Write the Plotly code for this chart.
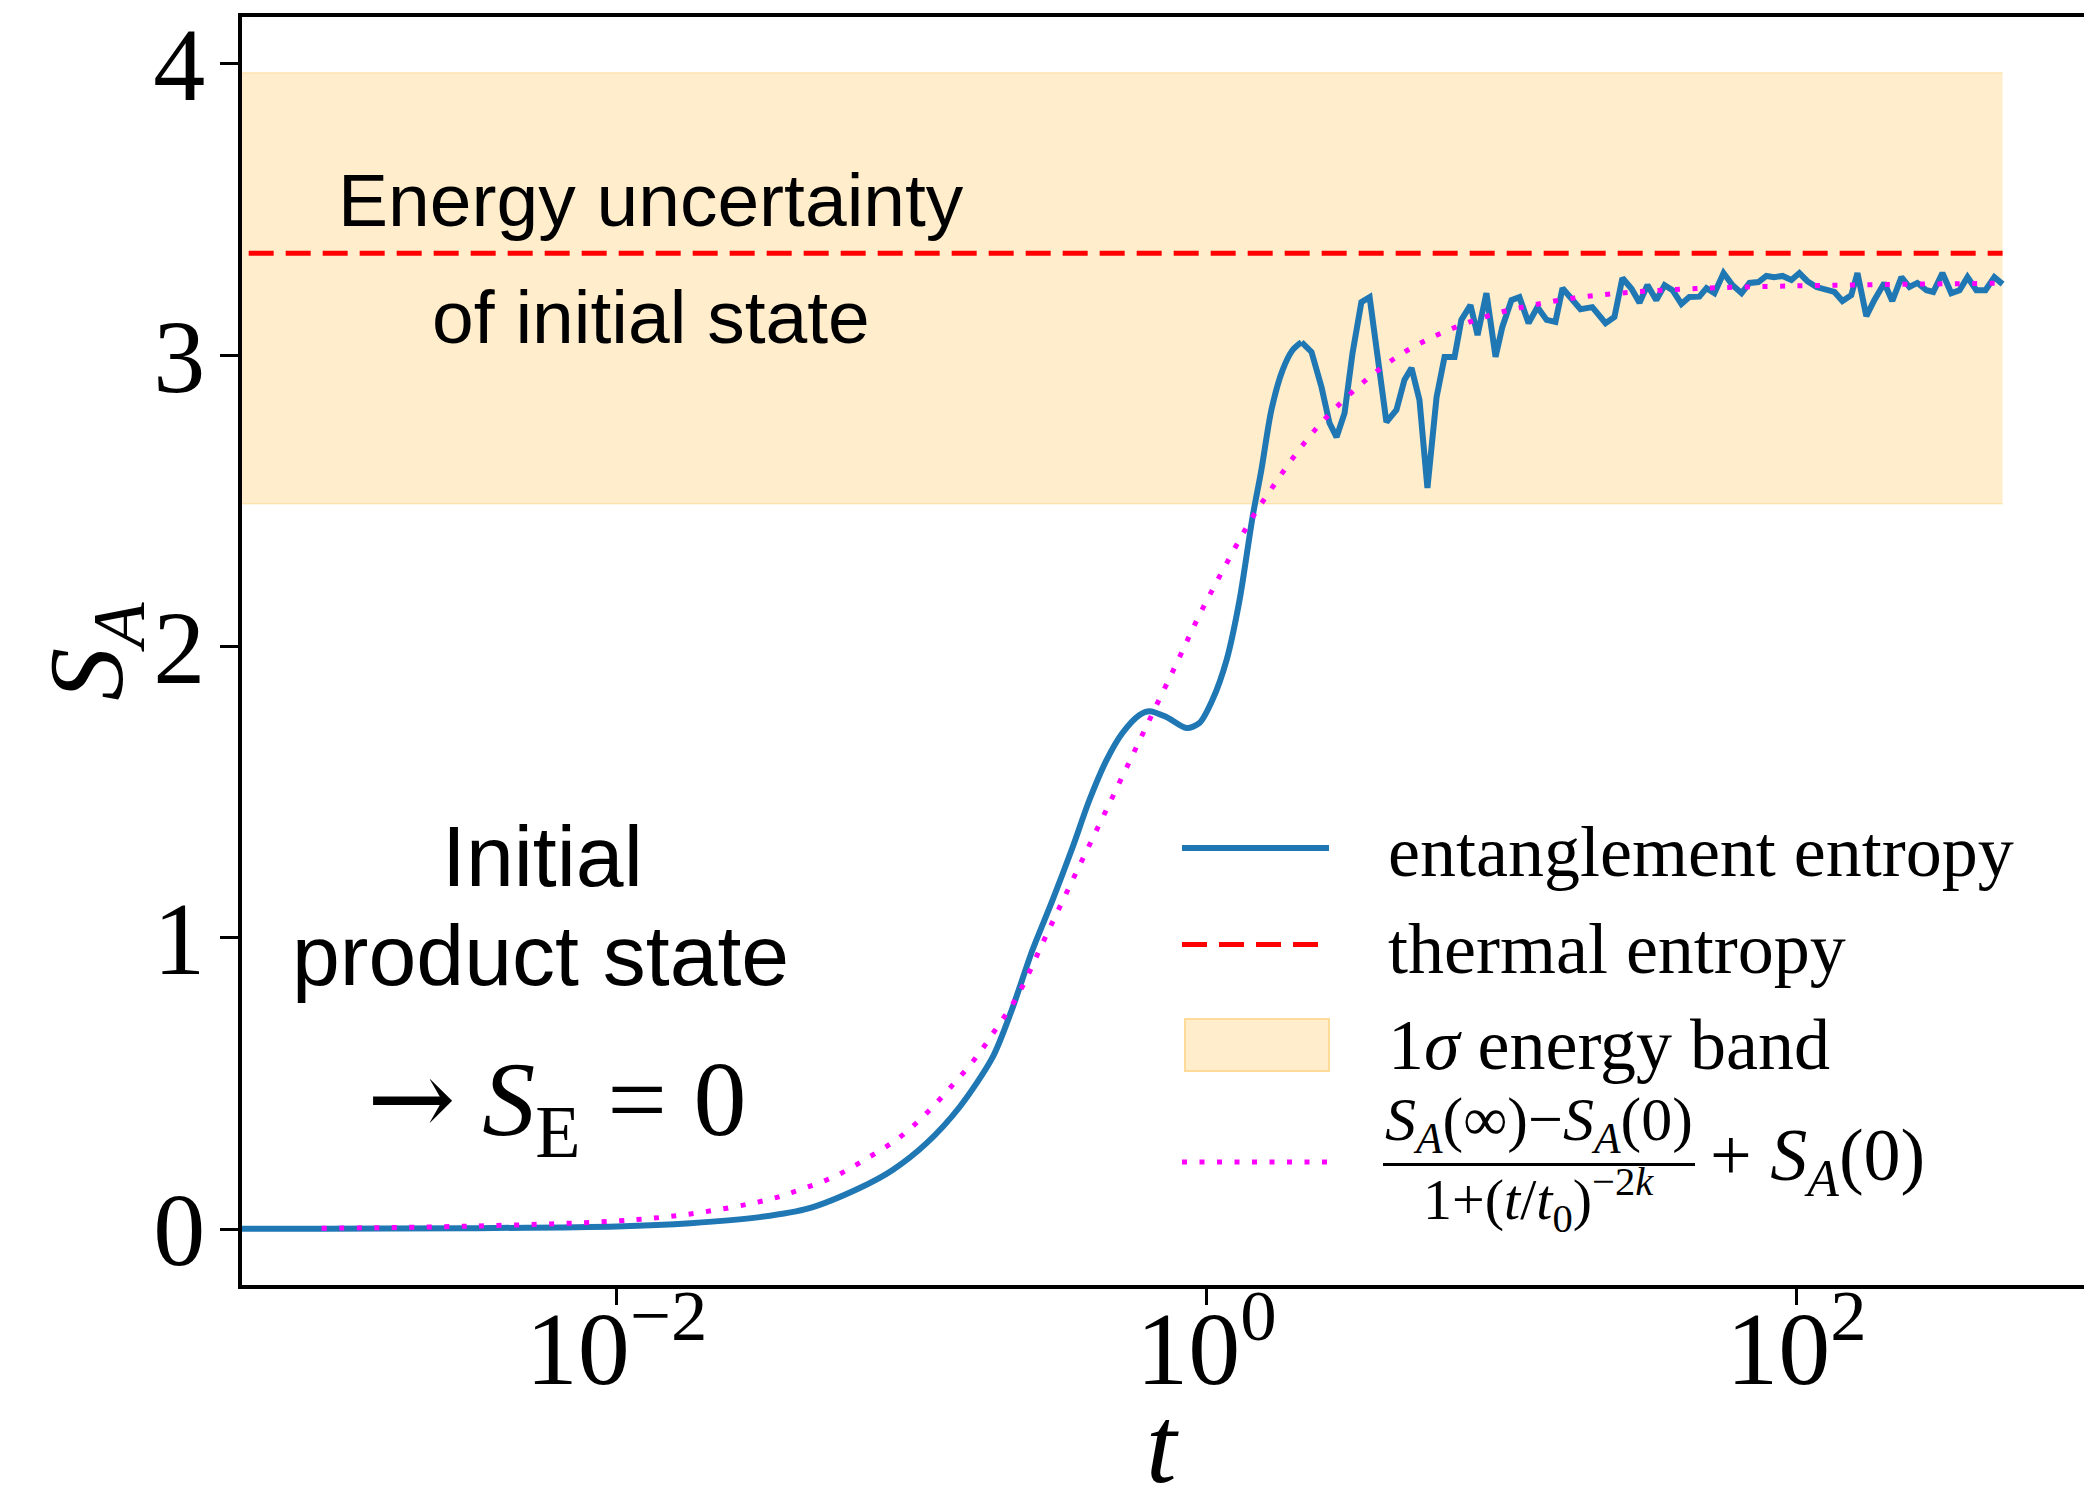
import plotly.graph_objects as go

# ---------------- data ----------------
# entanglement entropy (blue): log10(t) and S_A
log10_t_ent = [-4.0, -3.0, -2.5, -2.0, -1.75, -1.515, -1.346, -1.176, -1.064, -0.949,
               -0.837, -0.725, -0.661, -0.590, -0.522, -0.454, -0.397, -0.339, -0.285, -0.227,
               -0.193, -0.136, -0.068, -0.024, 0.020, 0.068, 0.112, 0.156, 0.186, 0.220,
               0.258, 0.292, 0.322, 0.356, 0.390, 0.417, 0.441, 0.468, 0.495, 0.525,
               0.553, 0.580, 0.610, 0.644, 0.671, 0.695, 0.722, 0.749, 0.780, 0.807,
               0.841, 0.864, 0.895, 0.919, 0.949, 0.980, 1.003, 1.034, 1.061, 1.092,
               1.122, 1.153, 1.183, 1.207, 1.237, 1.268, 1.308, 1.353, 1.383, 1.410,
               1.441, 1.468, 1.495, 1.525, 1.553, 1.580, 1.610, 1.637, 1.671, 1.695,
               1.722, 1.753, 1.783, 1.814, 1.841, 1.871, 1.898, 1.925, 1.953, 1.983,
               2.010, 2.037, 2.068, 2.102, 2.129, 2.156, 2.186, 2.207, 2.237, 2.264,
               2.298, 2.325, 2.356, 2.383, 2.410, 2.441, 2.464, 2.495, 2.525, 2.553,
               2.580, 2.610, 2.641, 2.671, 2.699]
S_ent = [0.0, 0.001, 0.003, 0.009, 0.020, 0.041, 0.072, 0.141, 0.203, 0.295,
         0.419, 0.590, 0.750, 0.958, 1.129, 1.311, 1.473, 1.610, 1.703, 1.765,
         1.778, 1.758, 1.720, 1.737, 1.816, 1.953, 2.159, 2.444, 2.606, 2.812,
         2.949, 3.018, 3.045, 3.011, 2.890, 2.767, 2.719, 2.801, 3.007, 3.182,
         3.199, 3.007, 2.770, 2.812, 2.915, 2.956, 2.846, 2.544, 2.856, 2.994,
         2.994, 3.121, 3.172, 3.069, 3.213, 2.994, 3.097, 3.189, 3.199, 3.110,
         3.165, 3.121, 3.114, 3.230, 3.196, 3.158, 3.165, 3.110, 3.131, 3.265,
         3.228, 3.180, 3.241, 3.189, 3.240, 3.223, 3.176, 3.200, 3.201, 3.230,
         3.213, 3.282, 3.241, 3.213, 3.248, 3.251, 3.272, 3.268, 3.272, 3.258,
         3.282, 3.254, 3.234, 3.223, 3.217, 3.186, 3.206, 3.282, 3.134, 3.189,
         3.248, 3.186, 3.268, 3.234, 3.248, 3.223, 3.217, 3.282, 3.213, 3.223,
         3.268, 3.223, 3.223, 3.268, 3.244]
SMOOTH_END = 33  # points before this index form the smooth early rise

# fitted curve (magenta, dotted)
log10_t_fit = [-3.0, -2.5, -2.0, -1.75, -1.49, -1.373, -1.258, -1.149, -1.044, -0.949,
               -0.864, -0.783, -0.712, -0.644, -0.532, -0.420, -0.305, -0.203, -0.102, -0.024,
               0.060, 0.156, 0.224, 0.298, 0.376, 0.461, 0.553, 0.654, 0.766, 0.881,
               1.000, 1.122, 1.244, 1.369, 1.495, 1.620, 1.750, 2.000, 2.250, 2.500, 2.699]
S_fit = [0.003, 0.010, 0.028, 0.052, 0.100, 0.137, 0.182, 0.244, 0.312, 0.398,
         0.491, 0.587, 0.690, 0.795, 1.033, 1.270, 1.512, 1.728, 1.941, 2.108,
         2.270, 2.444, 2.547, 2.654, 2.753, 2.842, 2.925, 3.000, 3.062, 3.110,
         3.148, 3.175, 3.196, 3.210, 3.220, 3.227, 3.232, 3.238, 3.242, 3.245, 3.247]

# thermal entropy and 1-sigma energy band
t_span = [1e-4, 500]
S_thermal = [3.35, 3.35]
band_low = [2.49, 2.49]
band_high = [3.97, 3.97]

# axis ticks and titles
x_tick_vals = [1e-2, 1, 1e2]
x_tick_text = ["10<sup>−2</sup>", "10<sup>0</sup>", "10<sup>2</sup>"]
y_tick_vals = [0, 1, 2, 3, 4]
y_tick_text = ["0", "1", "2", "3", "4"]
x_title = "<i>t</i>"
y_title = "<i>S</i><sub><i>A</i></sub>"

t_ent = [10 ** v for v in log10_t_ent]
t_fit = [10 ** v for v in log10_t_fit]

SERIF = "Liberation Serif"
SANS = "Liberation Sans"
BAND_FILL = "rgba(255,165,0,0.2)"
BLUE = "#1f77b4"
NB = "\u00a0\u00a0\u00a0"

fig = go.Figure()

# band
fig.add_trace(go.Scatter(x=t_span, y=band_low, mode="lines",
                         line=dict(color=BAND_FILL, width=1.5), showlegend=False,
                         hoverinfo="skip"))
fig.add_trace(go.Scatter(x=t_span, y=band_high, mode="lines", fill="tonexty",
                         fillcolor=BAND_FILL, line=dict(color=BAND_FILL, width=1.5),
                         showlegend=False, hoverinfo="skip"))
# thermal entropy
fig.add_trace(go.Scatter(x=t_span, y=S_thermal, mode="lines",
                         line=dict(color="#ff0000", width=5, dash="25px,12px"),
                         name=NB + "thermal entropy", legendrank=2))
# entanglement entropy: smooth early rise + oscillating tail
fig.add_trace(go.Scatter(x=t_ent[:SMOOTH_END], y=S_ent[:SMOOTH_END], mode="lines",
                         line=dict(color=BLUE, width=6, shape="spline", smoothing=0.8),
                         legendgroup="ent", showlegend=False))
fig.add_trace(go.Scatter(x=t_ent[SMOOTH_END - 1:], y=S_ent[SMOOTH_END - 1:], mode="lines",
                         line=dict(color=BLUE, width=6),
                         legendgroup="ent",
                         name=NB + "entanglement entropy", legendrank=1))
# fit
fig.add_trace(go.Scatter(x=t_fit, y=S_fit, mode="lines",
                         line=dict(color="#ff00ff", width=5, dash="5px,12.5px", shape="spline"),
                         name="\u00a0", legend="legend2"))
# legend placeholder for the band entry (symbol drawn as annotation patch)
fig.add_trace(go.Scatter(x=[None], y=[None], mode="lines",
                         line=dict(color="rgba(0,0,0,0)", width=1),
                         name=NB + "1<i>σ</i> energy band", legendrank=3))

legend_common = dict(xanchor="left", yanchor="top", bgcolor="rgba(0,0,0,0)",
                     borderwidth=0, itemwidth=147, tracegroupgap=0, traceorder="normal",
                     font=dict(family=SERIF, size=72, color="black"))

ann = []
def add_text(text, x, y, size, family, xanchor="center", angle=0):
    ann.append(dict(text=text, x=x, y=y, xref="paper", yref="paper",
                    xanchor=xanchor, yanchor="middle", showarrow=False, textangle=angle,
                    font=dict(family=family, size=size, color="black")))

# axis titles
add_text(x_title, 0.4995, -0.1265, 110, SERIF)
add_text(y_title, -0.0805, 0.5, 106, SERIF, angle=-90)
# in-plot notes
add_text("Energy uncertainty", 0.2220, 0.8557, 75, SANS)
add_text("of initial state", 0.2220, 0.7634, 75, SANS)
add_text("Initial", 0.1629, 0.3383, 86, SANS)
add_text("product state", 0.1623, 0.2603, 86, SANS)
add_text("<span style='font-family:DejaVu Serif'>→</span> <i>S</i><sub>E</sub> = 0",
         0.1705, 0.1420, 106, SERIF)
# legend formula
add_text("<i>S</i><sub><i>A</i></sub>(∞)−<i>S</i><sub><i>A</i></sub>(0)", 0.7041, 0.1272, 62, SERIF)
add_text("1+(<i>t</i>/<i>t</i><sub>0</sub>)<sup>−2<i>k</i></sup>", 0.7036, 0.0668, 58, SERIF)
add_text("+ <i>S</i><sub><i>A</i></sub>(0)", 0.7959, 0.0978, 74, SERIF, xanchor="left")
# fraction bar
ann.append(dict(text=" ", x=0.7041, y=0.0954, xref="paper", yref="paper",
                xanchor="center", yanchor="middle", showarrow=False,
                width=312, height=3, bgcolor="black", borderpad=0, borderwidth=0,
                font=dict(size=2)))
# band legend patch
ann.append(dict(text=" ", x=0.5510, y=0.1893, xref="paper", yref="paper",
                xanchor="center", yanchor="middle", showarrow=False,
                width=142, height=50, bgcolor="#ffedcc", bordercolor="#ffdb99",
                borderpad=0, borderwidth=2, font=dict(size=2)))

fig.update_layout(
    width=2084, height=1499, autosize=False,
    margin=dict(l=242, r=0, t=17, b=214, autoexpand=False),
    paper_bgcolor="white", plot_bgcolor="white",
    showlegend=True,
    legend=dict(x=0.5076, y=0.3867, **legend_common),
    legend2=dict(x=0.5076, y=0.1390, **legend_common),
    annotations=ann,
    xaxis=dict(type="log", range=[-3.27, 2.975], tickvals=x_tick_vals, ticktext=x_tick_text,
               ticks="outside", ticklen=16, tickwidth=2.5, tickcolor="black",
               showline=True, linecolor="black", linewidth=4, mirror=True,
               showgrid=False, zeroline=False, automargin=False, ticklabelstandoff=-46,
               tickfont=dict(family=SERIF, size=104, color="black")),
    yaxis=dict(range=[-0.192, 4.161], tickvals=y_tick_vals, ticktext=y_tick_text,
               ticks="outside", ticklen=18, tickwidth=2.5, tickcolor="black",
               showline=True, linecolor="black", linewidth=4, mirror=False,
               showgrid=False, zeroline=False, ticklabelstandoff=-6, automargin=False,
               tickfont=dict(family=SERIF, size=104, color="black")),
)

fig.write_html("out.html")
